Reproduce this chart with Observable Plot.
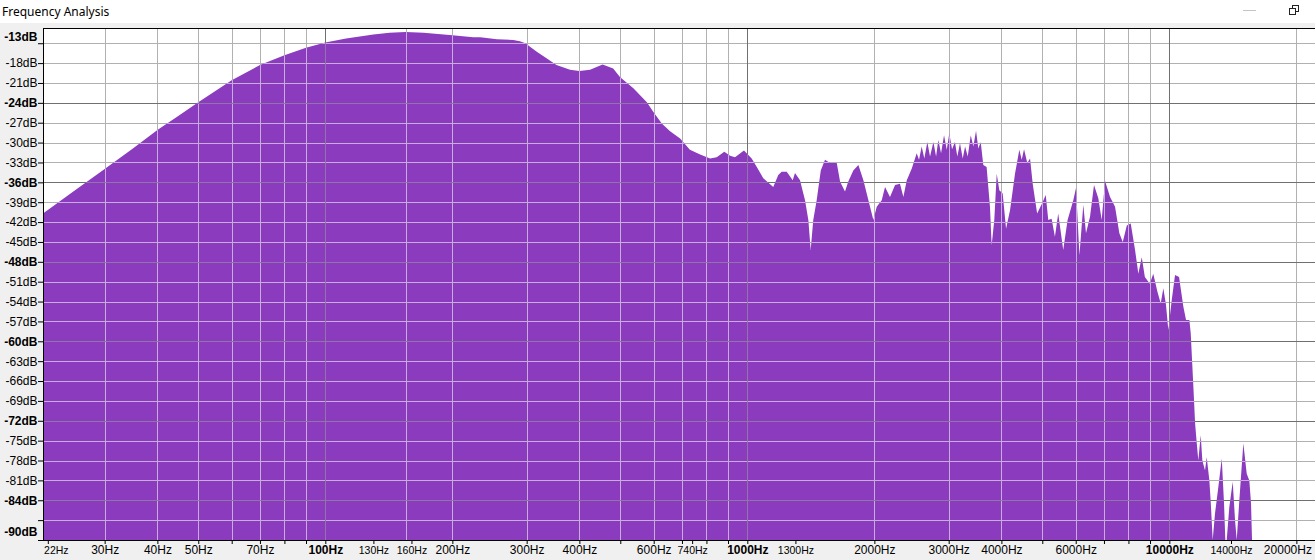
<!DOCTYPE html>
<html>
<head>
<meta charset="utf-8">
<script src="https://cdn.jsdelivr.net/npm/d3@7"></script>
<script src="https://cdn.jsdelivr.net/npm/@observablehq/plot@0.6"></script>
<style>
  html, body { margin: 0; padding: 0; background: #f0f0f0; width: 1315px; height: 560px; overflow: hidden; }
  #head { position: relative; height: 23px; background: #ffffff; }
  #title { position: absolute; left: 2px; top: 3px; font-family: "Noto Sans", "Open Sans", sans-serif; font-size: 12px; color: #000; white-space: nowrap; }
  #icons { position: absolute; left: 0; top: 0; }
  #chart svg { display: block; }
</style>
</head>
<body>
<div id="head">
  <span id="title">Frequency Analysis</span>
  <svg id="icons" width="1315" height="23">
    <line x1="1243" y1="10.5" x2="1256" y2="10.5" stroke="#c4c4c4" stroke-width="1"/>
    <rect x="1292.5" y="5.5" width="6" height="6" fill="#fff" stroke="#222" stroke-width="1"/>
    <rect x="1289.5" y="8.5" width="6" height="6" fill="#fff" stroke="#222" stroke-width="1"/>
  </svg>
</div>
<div id="chart"></div>
<script>
// ---- data ----
const freqHz = [21.43, 25, 30, 35, 40, 45, 50, 60, 70, 80, 90, 100, 112, 130, 142, 155, 171, 200, 224, 233, 255, 279, 289, 298, 305, 317, 335, 353, 380, 400, 424, 454, 481, 499, 537, 578, 599, 627, 656, 693, 731, 773, 816, 846, 882, 910, 935, 982, 1024, 1053, 1091, 1152, 1184, 1206, 1240, 1281, 1297, 1333, 1370, 1395, 1413, 1433, 1460, 1493, 1528, 1570, 1629, 1659, 1704, 1734, 1783, 1833, 1884, 1936, 1989, 2026, 2082, 2120, 2178, 2239, 2300, 2343, 2387, 2453, 2520, 2552, 2589, 2627, 2670, 2710, 2760, 2801, 2835, 2878, 2925, 2969, 3010, 3056, 3104, 3145, 3191, 3239, 3281, 3329, 3384, 3432, 3483, 3527, 3573, 3624, 3690, 3758, 3793, 3848, 3899, 3955, 4028, 4103, 4193, 4308, 4411, 4469, 4526, 4607, 4677, 4745, 4861, 4992, 5095, 5166, 5260, 5357, 5454, 5605, 5740, 5922, 6011, 6123, 6254, 6346, 6487, 6630, 6788, 6914, 7041, 7237, 7436, 7613, 7756, 7930, 8101, 8294, 8444, 8603, 8750, 8990, 9160, 9368, 9541, 9678, 9818, 9945, 10131, 10316, 10545, 10795, 10955, 11155, 11238, 11402, 11510, 11614, 11714, 11868, 11974, 12150, 12263, 12441, 12535, 12670, 12830, 13066, 13312, 13478, 13573, 13677, 13873, 14132, 14312, 14445, 14652, 14975, 15254, 15473, 15616, 15702, 22140];
const levelDb = [-40.7, -37.6, -34.0, -30.9, -28.1, -25.9, -23.9, -20.6, -18.3, -16.8, -15.7, -14.9, -14.3, -13.7, -13.4, -13.3, -13.4, -13.8, -14.1, -14.1, -14.4, -14.5, -14.7, -15.0, -15.5, -16.3, -17.3, -18.3, -19.0, -19.2, -19.0, -18.2, -18.8, -20.1, -21.8, -23.9, -25.4, -27.1, -28.3, -29.4, -31.1, -31.8, -32.4, -32.2, -31.4, -32.0, -32.2, -31.2, -32.4, -33.7, -35.4, -36.7, -34.9, -34.4, -34.4, -35.7, -34.6, -35.7, -38.7, -41.7, -46.2, -41.7, -38.7, -34.2, -32.6, -33.1, -33.1, -35.9, -37.4, -35.9, -34.2, -33.4, -35.7, -38.7, -41.7, -39.7, -38.7, -36.7, -38.2, -36.4, -36.2, -38.2, -35.7, -33.9, -31.6, -32.6, -30.6, -32.4, -29.9, -32.1, -29.9, -32.1, -29.6, -31.6, -28.9, -31.1, -28.6, -31.0, -29.9, -32.1, -30.1, -32.4, -30.6, -32.1, -28.9, -30.6, -28.2, -30.9, -29.9, -33.4, -33.7, -39.7, -45.5, -41.7, -34.7, -37.2, -37.7, -43.0, -40.2, -34.7, -31.1, -32.6, -31.0, -33.1, -32.4, -36.2, -40.7, -39.2, -37.9, -41.7, -41.5, -44.2, -40.7, -46.2, -41.7, -38.7, -36.8, -47.0, -39.4, -43.7, -41.2, -36.4, -38.4, -41.7, -35.8, -38.2, -39.7, -43.7, -45.0, -42.5, -42.2, -46.2, -49.8, -47.3, -50.3, -51.3, -49.8, -52.5, -54.3, -52.0, -54.5, -58.3, -53.8, -50.0, -50.3, -54.8, -56.8, -56.8, -58.8, -66.9, -72.4, -75.4, -78.0, -74.2, -78.0, -79.5, -77.5, -81.0, -84.3, -90, -86.0, -82.0, -77.7, -84.5, -90, -90, -85.0, -81.2, -87.0, -90, -84.0, -75.4, -80.0, -81.0, -84.5, -90, -90];

// axis domains
const xDomain = [21.43, 22140];
const yDomain = [-90, -12.7];

// grid lines
const xGridMinor = [30, 40, 50, 60, 70, 80, 90, 155, 200, 300, 400, 500, 600, 700, 800, 900, 2000, 3000, 4000, 5000, 6000, 7000, 8000, 9000, 20000];
const xGridMajor = [100, 1000, 10000];
const yGridMinor = [-15, -18, -21, -27, -30, -33, -39, -42, -45, -51, -54, -57, -63, -66, -69, -75, -78, -81, -87];
const yGridMajor = [-24, -36, -48, -60, -72, -84];

// tick marks and labels
const xTickMarks = [22, 30, 40, 50, 60, 70, 80, 90, 100, 130, 160, 200, 300, 400, 500, 600, 700, 740, 800, 900, 1000, 1300, 2000, 3000, 4000, 5000, 6000, 7000, 8000, 9000, 10000, 14000, 20000];
const xLabelsNormal = [30, 40, 50, 70, 200, 300, 400, 600, 2000, 3000, 4000, 6000];
const xLabelsSmall = [130, 160, 740, 1300, 14000];
const xLabelsBold = [100, 1000, 10000];
const xLabelFirst = [22];
const xLabelLast = [20000];
const yTickMarks = [-15, -18, -21, -24, -27, -30, -33, -36, -39, -42, -45, -48, -51, -54, -57, -60, -63, -66, -69, -72, -75, -78, -81, -84, -87, -90];
const yLabelsNormal = [-18, -21, -27, -30, -33, -39, -42, -45, -51, -54, -57, -63, -66, -69, -75, -78, -81];
const yLabelsBold = [-24, -36, -48, -60, -72, -84];
const yLabelTop = [-13];
const yLabelBottom = [-90];

const spectrum = freqHz.map((f, i) => ({f, db: levelDb[i], floor: yDomain[0]}));

const FONT = "'Liberation Sans', Arial, sans-serif";
const purple = "#8a3bbe";
const gridMinor = "#b1b1b1", gridMajor = "#707070";
const gridMinorIn = "#c9acdd", gridMajorIn = "#9274ab";

const hz = d => d + "Hz";
const db = d => d + "dB";

const chart = Plot.plot({
  width: 1315,
  height: 537,
  marginLeft: 43,
  marginRight: 0,
  marginTop: 5,
  marginBottom: 20,
  x: {type: "log", domain: xDomain},
  y: {domain: yDomain},
  style: {background: "#f0f0f0", color: "black", fontFamily: FONT, overflow: "visible"},
  marks: [
    Plot.frame({fill: "white", stroke: null}),
    // grid on white (rule groups 0-3)
    Plot.ruleX(xGridMinor, {stroke: gridMinor, shapeRendering: "crispEdges"}),
    Plot.ruleY(yGridMinor, {stroke: gridMinor, shapeRendering: "crispEdges"}),
    Plot.ruleX(xGridMajor, {stroke: gridMajor, shapeRendering: "crispEdges"}),
    Plot.ruleY(yGridMajor, {stroke: gridMajor, shapeRendering: "crispEdges"}),
    // spectrum
    Plot.areaY(spectrum, {x: "f", y1: "floor", y2: "db", fill: purple}),
    // grid over the fill (rule groups 4-7, clipped below)
    Plot.ruleX(xGridMinor, {stroke: gridMinorIn, shapeRendering: "crispEdges"}),
    Plot.ruleY(yGridMinor, {stroke: gridMinorIn, shapeRendering: "crispEdges"}),
    Plot.ruleX(xGridMajor, {stroke: gridMajorIn, shapeRendering: "crispEdges"}),
    Plot.ruleY(yGridMajor, {stroke: gridMajorIn, shapeRendering: "crispEdges"}),
    // frame lines
    Plot.ruleY([yDomain[1]], {stroke: "black", shapeRendering: "crispEdges"}),
    Plot.ruleY([yDomain[0]], {stroke: "black", shapeRendering: "crispEdges"}),
    Plot.ruleX([xDomain[0]], {stroke: "black", shapeRendering: "crispEdges"}),
    // tick marks
    Plot.axisX(xTickMarks, {tickSize: 4, tickFormat: () => "", label: null, stroke: "black"}),
    Plot.axisY(yTickMarks, {tickSize: 5, tickFormat: () => "", label: null, stroke: "black"}),
    // x labels
    Plot.text(xLabelsNormal, {x: d => d, frameAnchor: "bottom", dy: 13.5, text: hz, fontSize: 12, fill: "black"}),
    Plot.text(xLabelLast, {x: d => d, frameAnchor: "bottom", dy: 13.5, dx: -9, text: hz, fontSize: 12, fill: "black"}),
    Plot.text(xLabelsSmall, {x: d => d, frameAnchor: "bottom", dy: 13, text: hz, fontSize: 10.5, fill: "black"}),
    Plot.text(xLabelFirst, {x: d => d, frameAnchor: "bottom", dy: 13, dx: 8, text: hz, fontSize: 10.5, fill: "black"}),
    Plot.text(xLabelsBold, {x: d => d, frameAnchor: "bottom", dy: 13.5, text: hz, fontSize: 12, fontWeight: "bold", fill: "black"}),
    // y labels
    Plot.text(yLabelsNormal, {y: d => d, frameAnchor: "left", dx: -6, textAnchor: "end", text: db, fontSize: 12, fill: "black"}),
    Plot.text(yLabelsBold, {y: d => d, frameAnchor: "left", dx: -6, textAnchor: "end", text: db, fontSize: 12, fontWeight: "bold", fill: "black"}),
    Plot.text(yLabelTop, {y: d => d, frameAnchor: "left", dx: -6, dy: 7, textAnchor: "end", text: db, fontSize: 12, fontWeight: "bold", fill: "black"}),
    Plot.text(yLabelBottom, {y: d => d, frameAnchor: "left", dx: -6, dy: -8, textAnchor: "end", text: db, fontSize: 12, fontWeight: "bold", fill: "black"})
  ]
});

// clip the light grid to the filled spectrum so it only shows inside the purple
(function () {
  const ns = "http://www.w3.org/2000/svg";
  const area = chart.querySelector('g[aria-label="area"]');
  const rules = chart.querySelectorAll('g[aria-label="rule"]');
  if (!area || rules.length < 8) return;
  const areaPath = area.querySelector("path");
  if (!areaPath) return;
  const clip = document.createElementNS(ns, "clipPath");
  clip.setAttribute("id", "spectrum-clip");
  const cp = document.createElementNS(ns, "path");
  cp.setAttribute("d", areaPath.getAttribute("d"));
  if (area.getAttribute("transform")) cp.setAttribute("transform", area.getAttribute("transform"));
  clip.appendChild(cp);
  const defs = document.createElementNS(ns, "defs");
  defs.appendChild(clip);
  chart.insertBefore(defs, chart.firstChild);
  for (let i = 4; i < 8; i++) {
    const g = rules[i];
    const w = document.createElementNS(ns, "g");
    w.setAttribute("clip-path", "url(#spectrum-clip)");
    g.parentNode.insertBefore(w, g);
    w.appendChild(g);
  }
})();

document.getElementById("chart").appendChild(chart);
</script>
</body>
</html>
